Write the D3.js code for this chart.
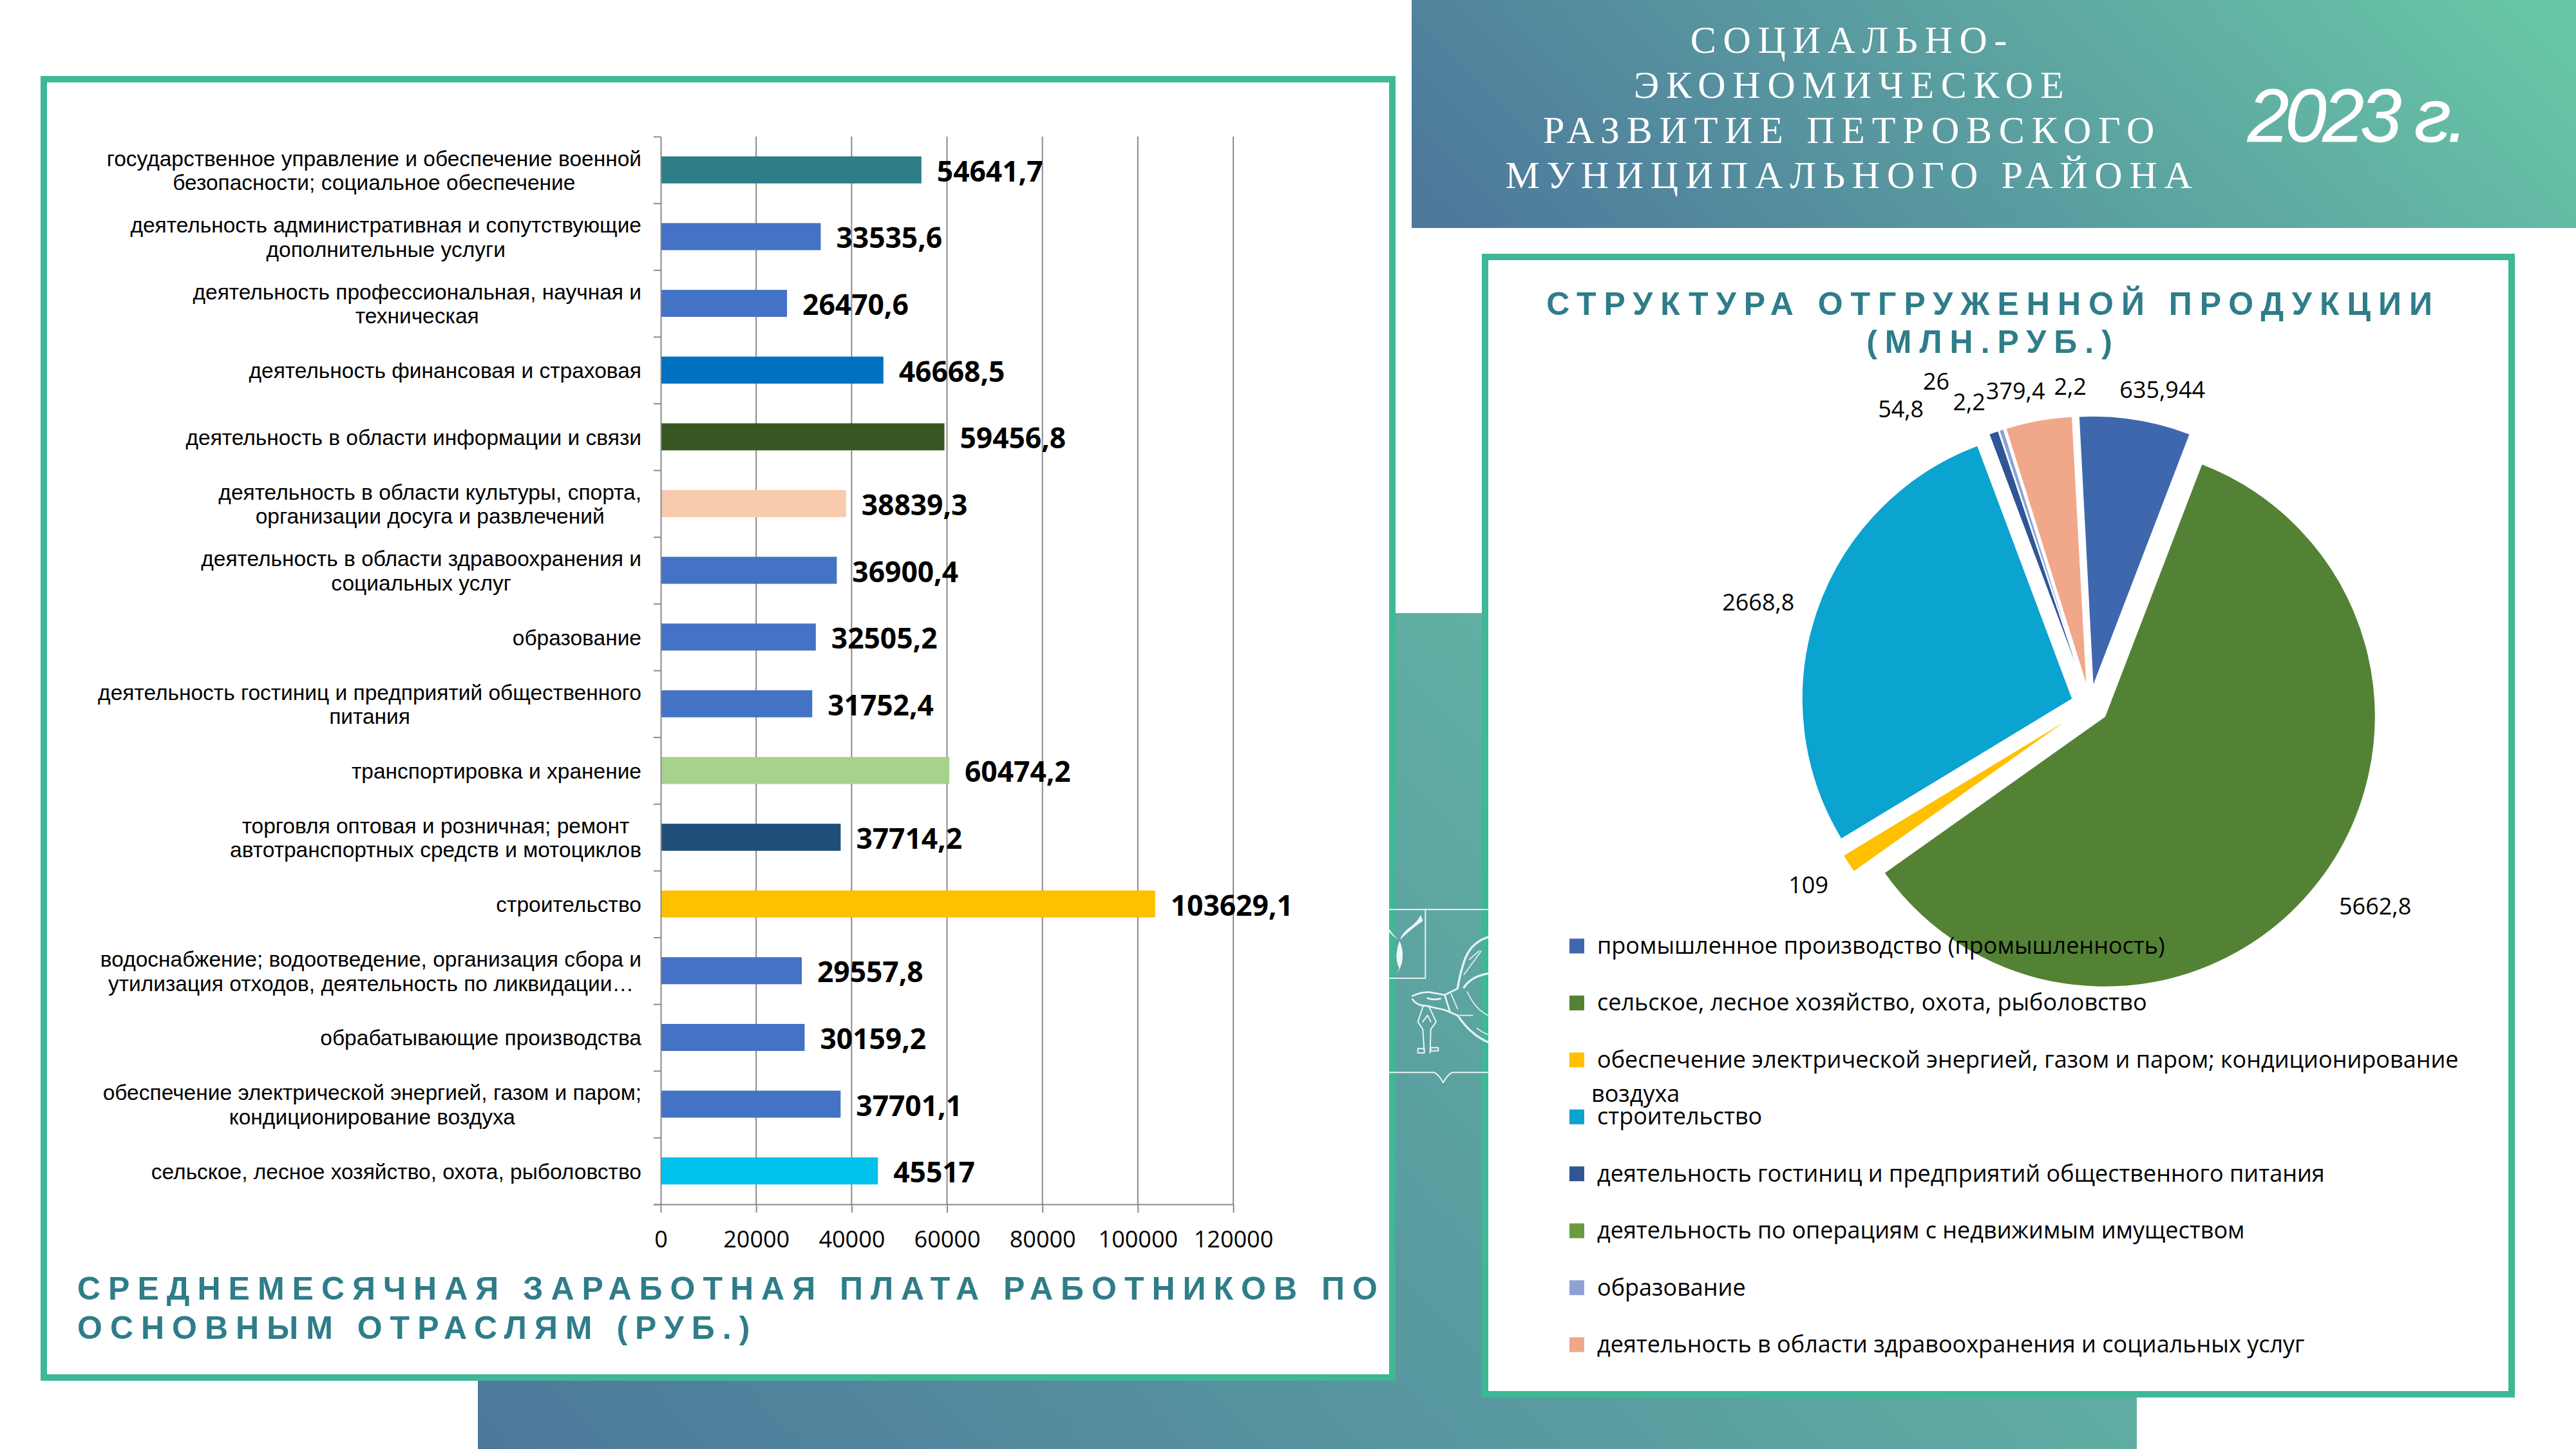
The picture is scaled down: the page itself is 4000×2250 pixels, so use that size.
<!DOCTYPE html>
<html lang="ru">
<head>
<meta charset="utf-8">
<script src="https://d3js.org/d3.v7.min.js"></script>
<style>
html,body{margin:0;padding:0;background:#fff}
svg{display:block}
</style>
</head>
<body>
<svg id="c" width="4000" height="2250"></svg>
<script>
// ---- data ----
const wageCategories = [
  "государственное управление и обеспечение военной\nбезопасности; социальное обеспечение",
  "деятельность административная и сопутствующие\nдополнительные услуги",
  "деятельность профессиональная, научная и\nтехническая",
  "деятельность финансовая и страховая",
  "деятельность в области информации и связи",
  "деятельность в области культуры, спорта,\nорганизации досуга и развлечений",
  "деятельность в области здравоохранения и\nсоциальных услуг",
  "образование",
  "деятельность гостиниц и предприятий общественного\nпитания",
  "транспортировка и хранение",
  "торговля оптовая и розничная; ремонт\nавтотранспортных средств и мотоциклов",
  "строительство",
  "водоснабжение; водоотведение, организация сбора и\nутилизация отходов, деятельность по ликвидации…",
  "обрабатывающие производства",
  "обеспечение электрической энергией, газом и паром;\nкондиционирование воздуха",
  "сельское, лесное хозяйство, охота, рыболовство"
];
const wageValues = [54641.7,33535.6,26470.6,46668.5,59456.8,38839.3,36900.4,32505.2,31752.4,60474.2,37714.2,103629.1,29557.8,30159.2,37701.1,45517];
const wageLabels = ["54641,7","33535,6","26470,6","46668,5","59456,8","38839,3","36900,4","32505,2","31752,4","60474,2","37714,2","103629,1","29557,8","30159,2","37701,1","45517"];
const wageColors = ["#2e7d89","#4472c4","#4472c4","#0070c0","#375623","#f8cbad","#4472c4","#4472c4","#4472c4","#a9d18e","#1f4e79","#ffc000","#4472c4","#4472c4","#4472c4","#00c1ec"];
const wageTicks = [0,20000,40000,60000,80000,100000,120000];

const pieValues = [635.944,5662.8,109,2668.8,54.8,2.2,26,379.4,2.2];
const pieLabels = ["635,944","5662,8","109","2668,8","54,8","2,2","26","379,4","2,2"];
const pieColors = ["#3f67ad","#548235","#ffc000","#0ba3cf","#2f5597","#6a9b3e","#8fa2d4","#f1a78a","#ffffff"];
const legendNames = [
  "промышленное производство (промышленность)",
  "сельское, лесное хозяйство, охота, рыболовство",
  "обеспечение электрической энергией, газом и паром; кондиционирование",
  "строительство",
  "деятельность гостиниц и предприятий общественного питания",
  "деятельность по операциям с недвижимым имуществом",
  "образование",
  "деятельность в области здравоохранения и социальных услуг"
];
const legendColors = ["#3f67ad","#548235","#ffc000","#0ba3cf","#2f5597","#6a9b3e","#8fa2d4","#f1a78a"];

const headerLines = ["СОЦИАЛЬНО-","ЭКОНОМИЧЕСКОЕ","РАЗВИТИЕ ПЕТРОВСКОГО","МУНИЦИПАЛЬНОГО РАЙОНА"];
const leftTitle = ["СРЕДНЕМЕСЯЧНАЯ ЗАРАБОТНАЯ ПЛАТА РАБОТНИКОВ ПО","ОСНОВНЫМ ОТРАСЛЯМ (РУБ.)"];
const rightTitle = ["СТРУКТУРА ОТГРУЖЕННОЙ ПРОДУКЦИИ","(МЛН.РУБ.)"];

// ---- layout ----
const TEAL="#2e7d89", BORDER="#3eb896", AXIS="#8a8a8a";
const SANS="'Liberation Sans',Arial,sans-serif", BODY="'Open Sans',sans-serif", SERIF="'Liberation Serif',serif";
const svg = d3.select("#c");
const defs = svg.append("defs");

function gradient(id,x1,y1,x2,y2){
  const g = defs.append("linearGradient").attr("id",id).attr("gradientUnits","userSpaceOnUse")
    .attr("x1",x1).attr("y1",y1).attr("x2",x2).attr("y2",y2);
  g.append("stop").attr("offset",0).attr("stop-color","#4d789b");
  g.append("stop").attr("offset",1).attr("stop-color","#68c5a6");
}
gradient("gTop",2600,700,3600,-300);
gradient("gMid",742,2250,2787,374);
defs.append("clipPath").attr("id","emClip").append("rect").attr("x",2157).attr("y",1380).attr("width",154).attr("height",320);

svg.append("rect").attr("x",2192).attr("y",0).attr("width",1808).attr("height",354).attr("fill","url(#gTop)");
svg.append("rect").attr("x",742).attr("y",952).attr("width",2576).attr("height",1298).attr("fill","url(#gMid)");

function panel(x0,y0,x1,y1){
  svg.append("rect").attr("x",x0+5).attr("y",y0+5).attr("width",x1-x0-10).attr("height",y1-y0-10)
    .attr("fill","#fff").attr("stroke",BORDER).attr("stroke-width",10);
}
panel(63,118,2167,2144);
panel(2301,394,3905,2170);

// ---- emblem decoration (zoom-space sketch, scaled to page) ----
const em = svg.append("g").attr("clip-path","url(#emClip)").append("g")
  .attr("transform","translate(2150,1380) scale(0.3333)")
  .attr("fill","none").attr("stroke","#e9f3f1").attr("stroke-width",6).attr("stroke-linecap","round").attr("stroke-linejoin","round");
em.append("path").attr("d","M20 97H482");
em.append("path").attr("d","M20 417H190V97");
em.append("path").attr("d","M20 856H230Q250 862 273 903Q296 862 316 856H482");
em.append("path").attr("fill","#f2f8f7").attr("stroke","none")
  .attr("d","M72 238Q80 205 130 170Q155 150 168 122L178 150Q150 170 125 190Q95 215 72 238Z M70 238Q45 225 20 185L20 200Q40 225 70 238Z M70 242Q90 290 82 335Q78 365 58 392L68 370Q52 340 56 300Q58 270 70 242Z");
em.append("path").attr("stroke-width",8).attr("d","M130 500Q170 480 210 482L280 495L340 465M130 515Q150 545 190 545L280 565L340 590M280 495L305 575M200 510Q230 520 260 512");
em.append("path").attr("stroke-width",6).attr("d","M180 545L155 620L178 655L185 765M205 545L240 620L215 655L212 765M155 745H185V765H155ZM215 740H250V755H215ZM178 620L200 590L215 620");
em.append("path").attr("stroke-width",10).attr("d","M482 225Q400 250 370 340Q350 400 340 465M340 590Q400 680 482 715M482 395Q400 410 370 460");
em.append("path").attr("stroke-width",5).attr("d","M370 400L450 290M395 330L440 290M385 480Q420 560 482 590M430 650Q455 670 482 680M310 490L340 560M350 590L410 590");

// ---- wage bar chart ----
const x = d3.scaleLinear().domain([0,120000]).range([1026,1915]);
const yBand = d3.scaleBand().domain(d3.range(wageValues.length)).range([212,1870]).paddingInner(0.595).paddingOuter(0.2975);
const yEdges = d3.scaleLinear().domain([0,wageValues.length]).range([212,1870]);

svg.append("g").selectAll("line").data(wageTicks.slice(1)).join("line")
  .attr("x1",d=>x(d)).attr("x2",d=>x(d)).attr("y1",212).attr("y2",1870)
  .attr("stroke",AXIS).attr("stroke-width",2);

const bars = svg.append("g");
bars.selectAll("rect").data(wageValues).join("rect")
  .attr("x",x(0)).attr("y",(d,i)=>yBand(i)).attr("width",d=>x(d)-x(0)).attr("height",yBand.bandwidth())
  .attr("fill",(d,i)=>wageColors[i]);

const axB = svg.append("g").attr("transform","translate(0,1870)")
  .call(d3.axisBottom(x).tickValues(wageTicks).tickSize(13).tickSizeOuter(0).tickPadding(28).tickFormat(d3.format("d")));
const axL = svg.append("g").attr("transform",`translate(${x(0)},0)`)
  .call(d3.axisLeft(yEdges).tickValues(d3.range(wageValues.length+1)).tickSize(11).tickSizeOuter(0).tickFormat(""));
axL.selectAll("text").remove();
[axB,axL].forEach(a=>{
  a.selectAll("path,line").attr("stroke",AXIS).attr("stroke-width",2);
});
axB.select(".domain").attr("d","M1015 0.5H1915");
axB.selectAll("text").attr("font-family",BODY).attr("font-size",36).attr("fill","#000");

// category labels: wrapped block, lines centred inside it, block right-aligned to the axis
const catG = svg.append("g").attr("font-family",SANS).attr("font-size",33.5).attr("fill","#000").attr("text-anchor","middle");
wageCategories.forEach((c,i)=>{
  const lines=c.split("\n"), cy=yBand(i)+yBand.bandwidth()/2;
  const ts=lines.map((l,k)=>catG.append("text").text(l).attr("y",cy+(k-(lines.length-1)/2)*37.5+12.5));
  const w=d3.max(ts,t=>t.node().getComputedTextLength());
  ts.forEach(t=>t.attr("x",996-w/2));
});

// value labels
svg.append("g").selectAll("text").data(wageValues).join("text")
  .attr("x",d=>x(d)+24).attr("y",(d,i)=>yBand(i)+yBand.bandwidth()/2+18)
  .attr("font-family",BODY).attr("font-weight",700).attr("font-size",45).attr("fill","#000")
  .text((d,i)=>wageLabels[i])
  .each(function(){ const n=this; n.setAttribute("textLength",n.getComputedTextLength()*0.985); n.setAttribute("lengthAdjust","spacingAndGlyphs"); });

// ---- titles ----
function lines(arr,xx,ys,size,family,weight,fill,ls,anchor){
  svg.append("g").selectAll("text").data(arr).join("text")
    .attr("x",xx).attr("y",(d,i)=>ys[i]).attr("font-family",family).attr("font-size",size).attr("font-weight",weight)
    .attr("fill",fill).attr("letter-spacing",ls).attr("text-anchor",anchor).text(d=>d);
}
lines(leftTitle,120,[2018,2079],50,SANS,700,TEAL,12,"start");
lines(rightTitle,3095,[489,548],50,SANS,700,TEAL,12,"middle");
lines(headerLines,2876,[82,152,222,292],60,SERIF,400,"#fff",10.75,"middle");
svg.append("text").attr("x",3490).attr("y",220).attr("font-family",SANS).attr("font-style","italic")
  .attr("font-size",116).attr("letter-spacing",-6.3).attr("fill","#fff").attr("stroke","#fff").attr("stroke-width",0.6).text("2023 г.");

// ---- pie ----
const pieCenter=[3245.5,1094.7], R=420, EXPLODE=29;
const toRad=Math.PI/180;
const pieGen=d3.pie().sort(null).startAngle(-3*toRad).endAngle(357*toRad);
const arcs=pieGen(pieValues);
const arcGen=d3.arc().innerRadius(0).outerRadius(R);
const dir=a=>{const m=(a.startAngle+a.endAngle)/2; return [Math.sin(m),-Math.cos(m)];};
const pieG=svg.append("g").attr("transform",`translate(${pieCenter})`);
pieG.selectAll("path").data(arcs).join("path")
  .attr("transform",d=>{const u=dir(d);return `translate(${u[0]*EXPLODE},${u[1]*EXPLODE})`;})
  .attr("d",arcGen).attr("fill",(d,i)=>pieColors[i]).attr("stroke","#fff").attr("stroke-width",1.5);
// nudges from the slice's outer edge, as the source's manually-spread labels
const pieLabelNudge=[[42,-46],[88,37],[-62,33],[-91,-13],[-144,-36],[-46,-45],[-101,-75],[-36,-46],[-7,-46]];
pieG.selectAll("text").data(arcs).join("text")
  .attr("x",(d,i)=>dir(d)[0]*(R+EXPLODE)+pieLabelNudge[i][0])
  .attr("y",(d,i)=>dir(d)[1]*(R+EXPLODE)+pieLabelNudge[i][1]+13)
  .attr("text-anchor","middle").attr("font-family",BODY).attr("font-size",36).attr("fill","#000")
  .text((d,i)=>pieLabels[i]);

// ---- legend ----
const legY=d3.scaleLinear().domain([0,7]).range([1469,2088]);
const leg=svg.append("g").selectAll("g").data(legendNames).join("g").attr("transform",(d,i)=>`translate(0,${legY(i)})`);
leg.append("rect").attr("x",2437).attr("y",-11.5).attr("width",23).attr("height",23).attr("fill",(d,i)=>legendColors[i]);
leg.append("text").attr("x",2480).attr("y",12).attr("font-family",BODY).attr("font-size",36).attr("fill","#000").text(d=>d);
svg.append("text").attr("x",2471).attr("y",1711).attr("font-family",BODY).attr("font-size",36).attr("fill","#000").text("воздуха");
</script>
</body>
</html>
